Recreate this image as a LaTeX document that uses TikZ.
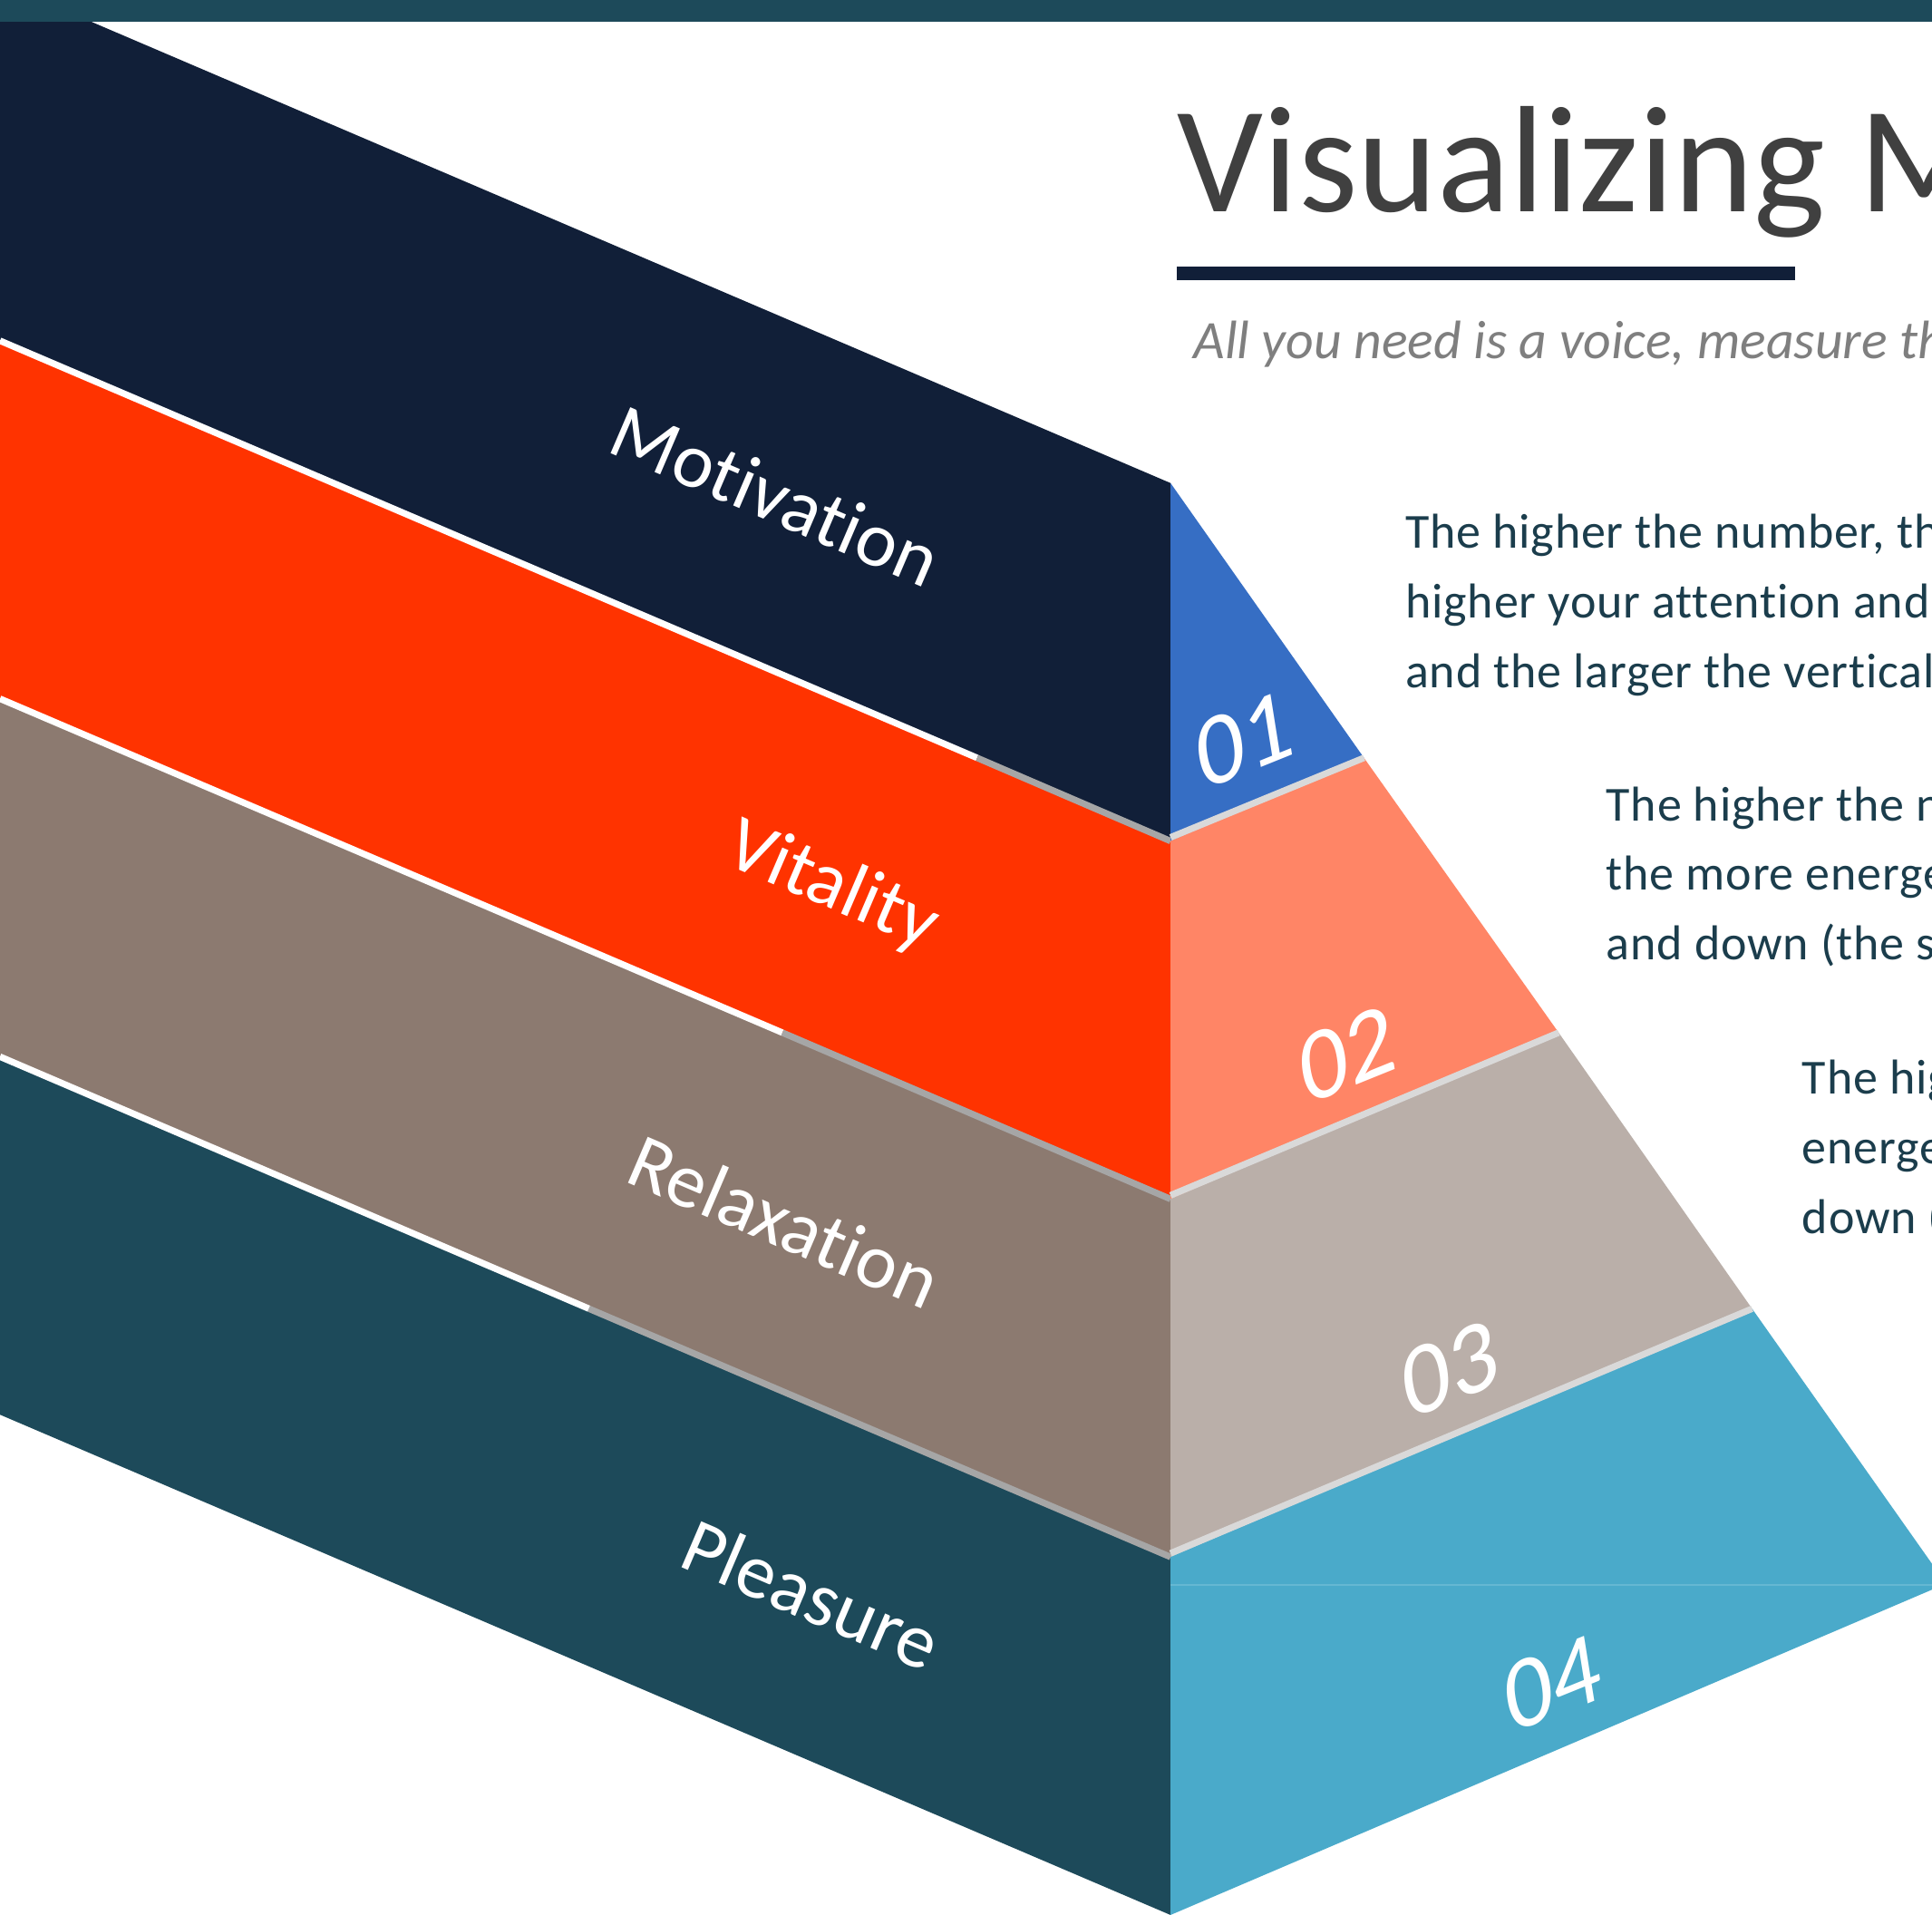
\documentclass[tikz,border=0pt]{standalone}
\usepackage{fontspec}
\setmainfont{Carlito}[Ligatures=NoCommon]
\newfontfamily\parafont{Carlito}[Ligatures=NoCommon,LetterSpace=1.5]
\usepackage{tikz}
\usetikzlibrary{calc,positioning}
\definecolor{navy}{HTML}{111F38}
\definecolor{vermil}{HTML}{FF3300}
\definecolor{taupe}{HTML}{8C7A70}
\definecolor{deepteal}{HTML}{1D4A5A}
\definecolor{blueface}{HTML}{366EC4}
\definecolor{salmon}{HTML}{FF8566}
\definecolor{ltaupe}{HTML}{BAAFA9}
\definecolor{ltblue}{HTML}{4AAACA}
\definecolor{sepgray}{HTML}{A6A6A6}
\definecolor{sepright}{HTML}{D9D9D9}
\definecolor{titlegray}{HTML}{404040}
\definecolor{subgray}{HTML}{7F7F7F}
\definecolor{paracol}{HTML}{1B3D4C}

\begin{document}
\begin{tikzpicture}[x=0.01cm,y=-0.01cm,
  sepL/.style={line width=1.5pt,white},
  sepD/.style={line width=1.5pt,sepgray},
  sepR/.style={line width=1.5pt,sepright},
  lbl/.style={text=white,inner sep=0pt,anchor=base east,rotate=-23.2,font=\fontsize{18}{20}\selectfont},
  num/.style={text=white,inner sep=0pt,rotate=22,xslant=0.23,font=\fontsize{23}{26}\selectfont},
  heading/.style={text=titlegray,inner sep=0pt,anchor=base west,font=\fontsize{35}{40}\selectfont},
  tagline/.style={text=subgray,inner sep=0pt,anchor=base west,font=\itshape\fontsize{12.5}{14}\selectfont},
  para/.style={text=paracol,inner sep=0pt,anchor=base west,font=\parafont\fontsize{11.3}{13}\selectfont}]
\path[use as bounding box,clip] (0,0) rectangle (1568,1554);

% front edge of the layers
\coordinate (t0) at (950,392);
\coordinate (t1) at (950,682.5);
\coordinate (t2) at (950,973);
\coordinate (t3) at (950,1263.5);
\coordinate (t4) at (950,1554);
% outer edge of the side faces
\coordinate (o1) at (1107,615);
\coordinate (o2) at (1265,838);
\coordinate (o3) at (1422,1062);
\coordinate (o4) at (1568,1269);
\coordinate (o5) at (1568,1290);
% where the separators change colour
\coordinate (w1) at (793,615);
\coordinate (w2) at (635,838);
\coordinate (w3) at (478,1062);

% layers
\foreach \c [count=\k from 0] in {navy,vermil,taupe,deepteal}
  \fill[\c] (0,{392+290.5*\k-406}) -- ($(t0)+(0,290.5*\k)$)
    -- ($(t1)+(0,290.5*\k)$) -- (0,{682.5+290.5*\k-406}) -- cycle;
\fill[deepteal] (0,0) rectangle (1568,17.7);

\draw[sepL] (0,276.5) -- (w1);  \draw[sepD] (w1) -- (t1);
\draw[sepL] (0,567) -- (w2);    \draw[sepD] (w2) -- (t2);
\draw[sepL] (0,857.5) -- (w3);  \draw[sepD] (w3) -- (t3);

% side faces
\fill[blueface] (t0) -- (o1) -- (t1) -- cycle;
\fill[salmon] (t1) -- (o1) -- (o2) -- (t2) -- cycle;
\fill[ltaupe] (t2) -- (o2) -- (o3) -- (t3) -- cycle;
\fill[ltblue] (t3) -- (o3) -- (o4) -- (o5) -- (t4) -- cycle;
\draw[line width=0.4pt,ltblue!85!white] (950,1286) -- (1568,1286);
\draw[sepR] ($(t1)+(0,-3)$) -- (o1);
\draw[sepR] ($(t2)+(0,-3)$) -- (o2);
\draw[sepR] ($(t3)+(0,-3)$) -- (o3);

% labels
\foreach \t [count=\k from 0] in {Motivation,Vitality,Relaxation,Pleasure}
  \node[lbl] (lab\k) at (752,{478+293*\k}) {\t};
\foreach \t [count=\k from 0] in {01,02,03,04}
  \node[num] (nr\k) at ({1010+83.4*\k},{600+255.3*\k}) {\t};

% heading
\node[heading] (head) at (955,172) {Visualizing M};
\fill[navy] (955,216) rectangle (1457,227);
\node[tagline] (sub) at (968,291) {All you need is a voice, measure th};

\foreach \t [count=\i from 0] in {{The higher the number, the},{higher your attention and c},{and the larger the vertical}}
  \node[para] (pa\i) at (1140,{445+56.5*\i}) {\t};
\foreach \t [count=\i from 0] in {{The higher the n},{the more energe},{and down (the s}}
  \node[para] (pb\i) at (1303,{666+56.5*\i}) {\t};
\foreach \t [count=\i from 0] in {{The hig},{energe},{down (}}
  \node[para] (pc\i) at (1462,{888+56.5*\i}) {\t};
\end{tikzpicture}
\end{document}
